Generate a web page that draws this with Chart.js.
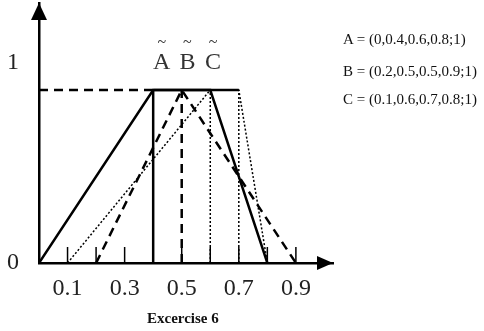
<!DOCTYPE html>
<html>
<head>
<meta charset="utf-8">
<script src="https://cdn.jsdelivr.net/npm/chart.js@4"></script>
<style>
  body { margin: 0; background: #fff; }
  #wrap { position: relative; width: 484px; height: 331px; }
  .eq { position: absolute; left: 343px; font: 15px "Liberation Serif", serif; color: #111; white-space: nowrap; }
  #caption { position: absolute; left: 147px; top: 310px; font: bold 15px "Liberation Serif", serif; color: #111; }
</style>
</head>
<body>
<div id="wrap">
  <canvas id="canvas" width="484" height="331"></canvas>
  <div class="eq" style="top:31px">A = (0,0.4,0.6,0.8;1)</div>
  <div class="eq" style="top:63px">B = (0.2,0.5,0.5,0.9;1)</div>
  <div class="eq" style="top:91px">C = (0.1,0.6,0.7,0.8;1)</div>
  <div id="caption">Excercise 6</div>
</div>
<script>
// height of the flat tops (the "1" tick sits higher)
let top_ = 0.865;

// A: solid trapezoid, plus its vertical at 0.4 and the shared top bar
let aX = [0, 0.4, 0.6, 0.8];
let aY = [0, top_, top_, 0];
let aCoreX = [0.4, 0.4];
let aCoreY = [0, top_];
let barX = [0.4, 0.7];
let barY = [top_, top_];

// B: dashed triangle, its vertical at 0.5, and the dashed level line
let bX = [0.2, 0.5, 0.9];
let bY = [0, top_, 0];
let bCoreX = [0.5, 0.5];
let bCoreY = [0, top_];
let levelX = [0, 0.4];
let levelY = [top_, top_];

// C: dotted trapezoid and its verticals at 0.6 and 0.7
let cX = [0.1, 0.6, 0.7, 0.8];
let cY = [0, top_, top_, 0];
let cLeftX = [0.6, 0.6];
let cRightX = [0.7, 0.7];
let cCoreY = [0, top_];

// axis ticks
let xTickValues = [0.1, 0.2, 0.3, 0.4, 0.5, 0.6, 0.7, 0.8, 0.9];
let xTickLabels = ['0.1', '', '0.3', '', '0.5', '', '0.7', '', '0.9'];
let yTickValues = [0, 1];
let yTickLabels = ['0', '1'];

// names above the tops
let names = ['A', 'B', 'C'];
let nameX = [0.43, 0.52, 0.61];
let nameY = 1.0;

function pts(xs, ys) {
  let out = [];
  for (let i = 0; i < xs.length; i++) out.push({x: xs[i], y: ys[i]});
  return out;
}

function line(xs, ys, width, dash) {
  return {
    data: pts(xs, ys),
    borderColor: '#000',
    borderWidth: width,
    borderDash: dash,
    pointRadius: 0,
    fill: false,
    tension: 0
  };
}

let serif = '"Liberation Serif", "Times New Roman", serif';

// arrowheads, upward tick marks and the letter names
let decor = {
  id: 'decor',
  afterDraw(chart) {
    let ctx = chart.ctx;
    let area = chart.chartArea;
    let x = chart.scales.x;
    let y = chart.scales.y;
    let ox = x.getPixelForValue(0);
    let oy = y.getPixelForValue(0);
    ctx.save();
    ctx.fillStyle = '#000';
    ctx.beginPath();
    ctx.moveTo(ox, area.top);
    ctx.lineTo(ox - 8, area.top + 17);
    ctx.lineTo(ox + 8, area.top + 17);
    ctx.closePath();
    ctx.fill();
    ctx.beginPath();
    ctx.moveTo(area.right, oy);
    ctx.lineTo(area.right - 16, oy - 7);
    ctx.lineTo(area.right - 16, oy + 7);
    ctx.closePath();
    ctx.fill();

    ctx.strokeStyle = '#000';
    ctx.lineWidth = 1.5;
    for (let i = 0; i < xTickValues.length; i++) {
      let px = x.getPixelForValue(xTickValues[i]);
      ctx.beginPath();
      ctx.moveTo(px, oy);
      ctx.lineTo(px, oy - 16);
      ctx.stroke();
    }

    ctx.fillStyle = '#333';
    ctx.textAlign = 'center';
    ctx.textBaseline = 'middle';
    for (let i = 0; i < names.length; i++) {
      let px = x.getPixelForValue(nameX[i]);
      let py = y.getPixelForValue(nameY);
      ctx.font = '24px ' + serif;
      ctx.fillText(names[i], px, py);
      ctx.font = '16px ' + serif;
      ctx.fillText('~', px, py - 20);
    }
    ctx.restore();
  }
};

let options = {
  type: 'line',
  data: {
    datasets: [
      line(aX, aY, 2.5, []),
      line(aCoreX, aCoreY, 2.5, []),
      line(barX, barY, 2.5, []),
      line(bX, bY, 2.5, [9, 6]),
      line(bCoreX, bCoreY, 2.5, [9, 6]),
      line(levelX, levelY, 2.5, [9, 6]),
      line(cX, cY, 1.5, [2, 2]),
      line(cLeftX, cCoreY, 1.5, [2, 2]),
      line(cRightX, cCoreY, 1.5, [2, 2])
    ]
  },
  options: {
    responsive: false,
    animation: false,
    layout: { padding: { left: 0, top: 3, right: 151, bottom: 0 } },
    plugins: { legend: { display: false }, tooltip: { enabled: false } },
    scales: {
      x: {
        type: 'linear',
        min: 0,
        max: 1.03,
        afterFit(scale) {
          scale.height = 68;
          scale.paddingLeft = 0;
          scale.paddingRight = 0;
        },
        afterBuildTicks(scale) { scale.ticks = xTickValues.map(v => ({value: v})); },
        grid: { display: false },
        border: { display: true, color: '#000', width: 2.5 },
        ticks: {
          autoSkip: false,
          maxRotation: 0,
          padding: 3,
          color: '#222',
          font: { family: serif, size: 24 },
          callback: (v, i) => xTickLabels[i]
        }
      },
      y: {
        type: 'linear',
        min: 0,
        max: 1.3,
        afterFit(scale) {
          scale.width = 39;
          scale.paddingTop = 0;
          scale.paddingBottom = 0;
        },
        afterBuildTicks(scale) { scale.ticks = yTickValues.map(v => ({value: v})); },
        grid: { display: false },
        border: { display: true, color: '#000', width: 2.5 },
        ticks: {
          padding: 12,
          color: '#222',
          font: { family: serif, size: 24 },
          callback: (v, i) => yTickLabels[i]
        }
      }
    }
  },
  plugins: [decor]
};

let chart = new Chart(document.getElementById('canvas'), options);
</script>
</body>
</html>
